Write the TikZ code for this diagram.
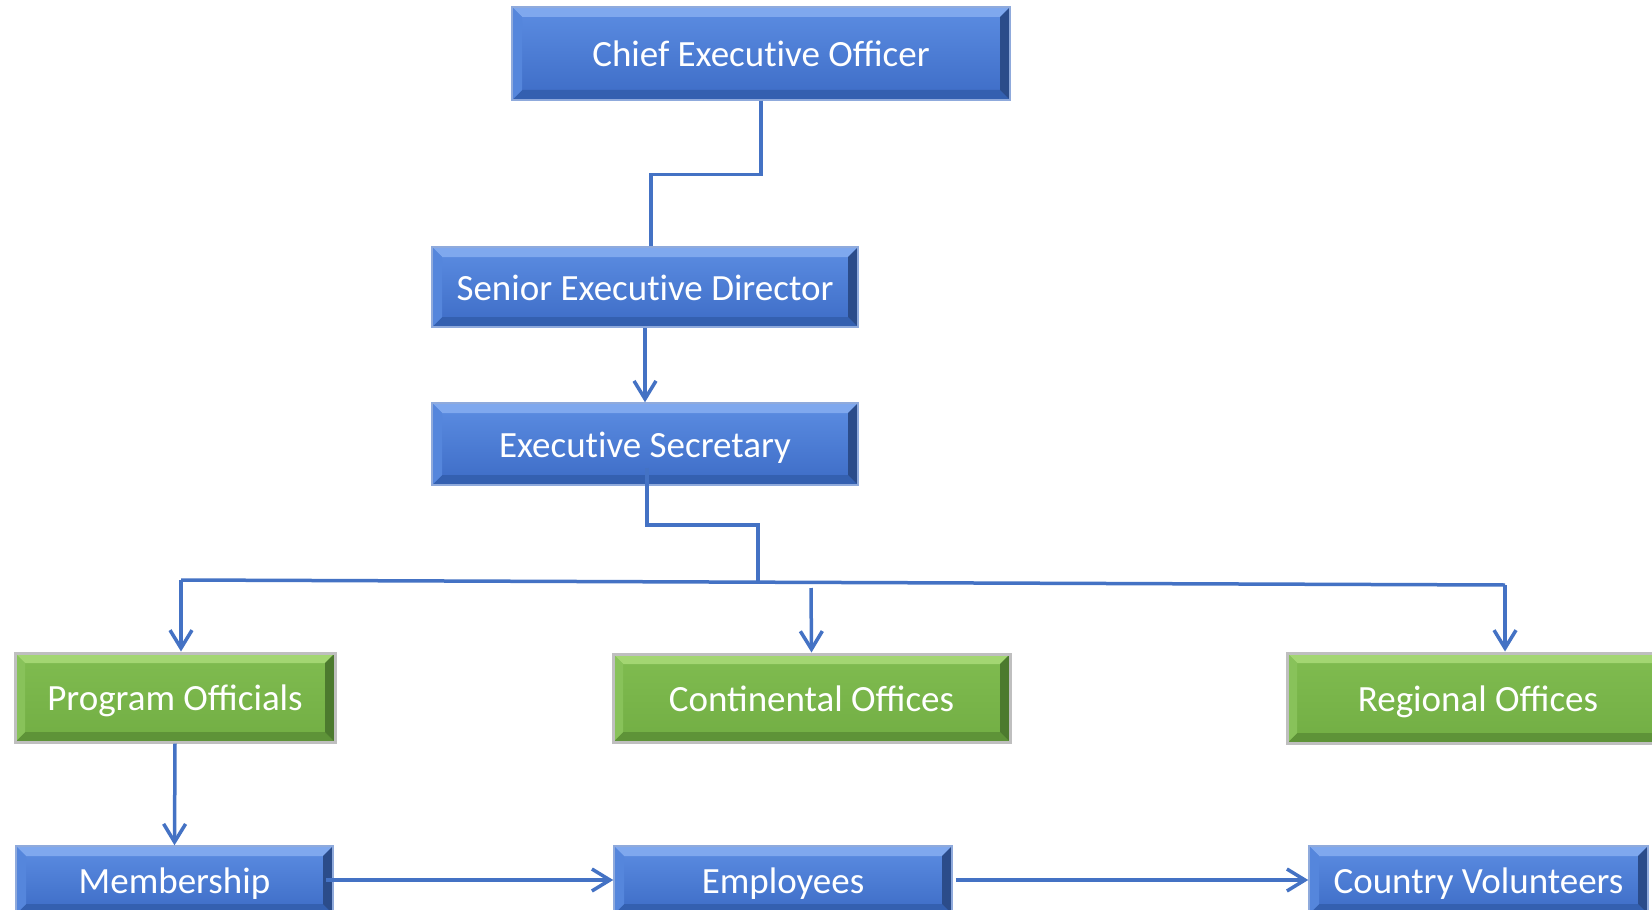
\documentclass[tikz,border=0pt]{standalone}
\usepackage{fontspec}
\setmainfont{Carlito}
\usetikzlibrary{arrows.meta,calc}
\newcommand\nlg{\kern0pt }
\definecolor{lineblue}{HTML}{4472C4}
\definecolor{bTop}{HTML}{5C8DE2}
\definecolor{bBot}{HTML}{3D6CC6}
\definecolor{bBevT}{HTML}{7FA8EE}
\definecolor{bBevL}{HTML}{5586DC}
\definecolor{bBevR}{HTML}{2B4C8A}
\definecolor{bBevB}{HTML}{3460B0}
\definecolor{bEdge}{HTML}{8FAADC}
\definecolor{gTop}{HTML}{80BC50}
\definecolor{gBot}{HTML}{72AE44}
\definecolor{gBevT}{HTML}{A3D672}
\definecolor{gBevL}{HTML}{88C25A}
\definecolor{gBevR}{HTML}{4C7A2E}
\definecolor{gBevB}{HTML}{5E9338}
\definecolor{gEdge}{HTML}{BFBFBF}
\tikzset{
  bevelpic/.style n args={4}{path picture={
    \path (path picture bounding box.north west) coordinate (pNW)
          (path picture bounding box.north east) coordinate (pNE)
          (path picture bounding box.south west) coordinate (pSW)
          (path picture bounding box.south east) coordinate (pSE);
    \fill[#1] (pNW) -- (pNE) -- ([shift={(-5pt,-5pt)}]pNE) -- ([shift={(5pt,-5pt)}]pNW) -- cycle;
    \fill[#4] (pSW) -- (pSE) -- ([shift={(-5pt,5pt)}]pSE) -- ([shift={(5pt,5pt)}]pSW) -- cycle;
    \fill[#2] (pNW) -- (pSW) -- ([shift={(5pt,5pt)}]pSW) -- ([shift={(5pt,-5pt)}]pNW) -- cycle;
    \fill[#3] (pNE) -- (pSE) -- ([shift={(-5pt,5pt)}]pSE) -- ([shift={(-5pt,-5pt)}]pNE) -- cycle;
  }},
  boxbase/.style={rectangle, inner sep=0pt, text=white, text height=15.5pt, text depth=2.5pt,
    font=\fontsize{18.5}{22}\selectfont},
  bluebox/.style={boxbase, top color=bTop, bottom color=bBot, draw=bEdge, line width=0.75pt,
    bevelpic={bBevT}{bBevL}{bBevR}{bBevB}},
  greenbox/.style={boxbase, top color=gTop, bottom color=gBot, draw=gEdge, line width=1.5pt,
    bevelpic={gBevT}{gBevL}{gBevR}{gBevB}},
  conn/.style={draw=lineblue, line width=1.75pt},
  arr/.style={conn, -{Straight Barb[length=9pt,width=11pt]}}
}
\begin{document}
\begin{tikzpicture}[x=0.5pt,y=-0.5pt]
\useasboundingbox (0,0) rectangle (1652,909);
\clip (0,0) rectangle (1652,909);
\fill[white] (0,0) rectangle (1652,909);

\node[bluebox, minimum width=249pt, minimum height=46.5pt] (ceo) at (761,53.5) {Chief Execut\nlg ive Officer};
\node[bluebox, minimum width=213pt, minimum height=40pt] (sed) at (645,287) {Senior Execut\nlg ive Director};
\node[bluebox, minimum width=213pt, minimum height=41pt] (es) at (645,444) {Execut\nlg ive Secretary};
\node[greenbox, minimum width=160pt, minimum height=44.5pt] (po) at (175,697.5) {Program Officials};
\node[greenbox, minimum width=198.5pt, minimum height=44pt] (co) at (811.5,698) {Continental Offices};
\node[greenbox, minimum width=191pt, minimum height=45pt] (ro) at (1478,698) {Regional Offices};
\node[bluebox, minimum width=158.5pt, minimum height=34pt] (mem) at (174.5,880) {Membership};
\node[bluebox, minimum width=169pt, minimum height=34pt] (emp) at (783,880) {Employees};
\node[bluebox, minimum width=169.5pt, minimum height=34pt] (cv) at (1478.5,880) {Country Volunteers};

\coordinate (busL) at (181,580);
\coordinate (busR) at (1505,585);
\coordinate (busM) at (758,582);
\coordinate (busC) at (811,588);

\draw[conn] (ceo.south) -- ++(0,74) -| ([xshift=3pt]sed.north);
\draw[arr] (sed.south) -- (es.north);
\draw[conn] ([xshift=1pt,yshift=9pt]es.south) -- ++(0,57) -| (busM);
\draw[conn] (busL) -- (busR);
\draw[arr] (busL) -- ([xshift=3pt]po.north);
\draw[arr] (busC) -- (co.north);
\draw[arr] (busR) -- ([xshift=13.5pt]ro.north);
\draw[arr] (po.south) -- (mem.north);
\draw[arr] ([xshift=-4pt]mem.east) -- (emp.west);
\draw[arr] ([xshift=1.5pt]emp.east) -- (cv.west);
\end{tikzpicture}
\end{document}
